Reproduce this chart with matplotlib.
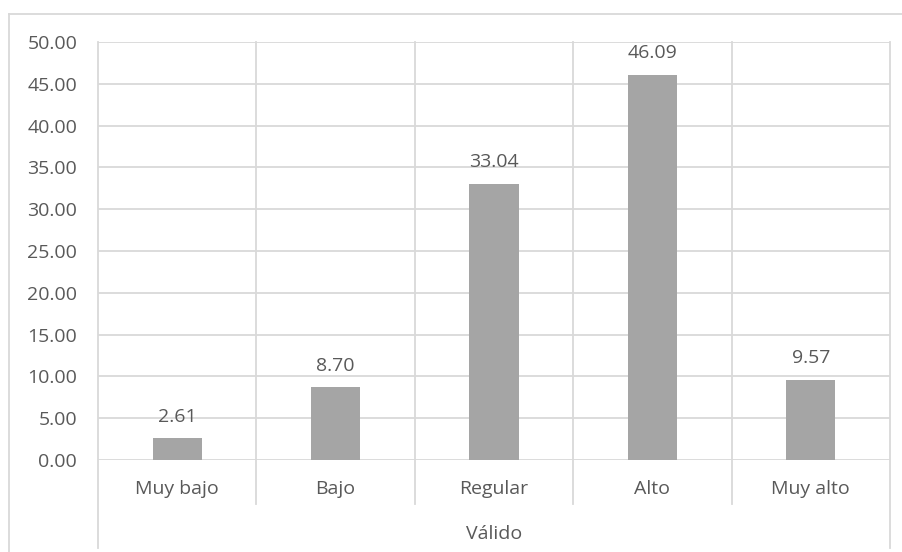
import matplotlib
matplotlib.use("Agg")
import matplotlib.pyplot as plt
from matplotlib.lines import Line2D
import matplotlib.transforms as mtransforms

categories = ["Muy bajo", "Bajo", "Regular", "Alto", "Muy alto"]
values = [2.61, 8.70, 33.04, 46.09, 9.57]
group_label = "Válido"
yticks = [0, 5, 10, 15, 20, 25, 30, 35, 40, 45, 50]

W, H = 903, 552
plt.rcParams["font.family"] = ["Open Sans", "DejaVu Sans"]
text_color = "#595959"
grid_color = "#D9D9D9"
bar_color = "#A5A5A5"
fs = 14

fig = plt.figure(figsize=(W / 100, H / 100), dpi=100)

# plot area in pixel coordinates
left, right, top, bottom = 98, 890, 42, 460
ax = fig.add_axes([left / W, (H - bottom) / H, (right - left) / W, (bottom - top) / H])

x = list(range(len(categories)))
ax.bar(x, values, width=0.31, color=bar_color, zorder=3)
for xi, v in zip(x, values):
    ax.annotate(f"{v:.2f}", (xi, v), xytext=(0, 9), textcoords="offset points",
                ha="center", va="bottom", color=text_color, fontsize=fs)

ax.set_xlim(-0.5, len(categories) - 0.5)
ax.set_ylim(0, 50)
ax.set_yticks(yticks)
ax.set_yticklabels([f"{t:.2f}" for t in yticks])
ax.tick_params(axis="y", length=0, pad=15, labelcolor=text_color, labelsize=fs)
ax.set_xticks([])
for s in ax.spines.values():
    s.set_visible(False)

for t in yticks:
    ax.axhline(t, color=grid_color, lw=1.3, zorder=1)

# category dividers, extending below the axis into the label area
trans = mtransforms.blended_transform_factory(ax.transData, ax.transAxes)
inner_low = (bottom - 504) / (bottom - top)
outer_low = (bottom - 548) / (bottom - top)
n = len(categories)
for i in range(n + 1):
    xd = i - 0.5
    low = outer_low if i in (0, n) else inner_low
    ax.add_line(Line2D([xd, xd], [1, low], transform=trans, color=grid_color,
                       lw=1.3, clip_on=False, zorder=1))

label_y = (bottom - 489) / (bottom - top)
for xi, c in zip(x, categories):
    ax.text(xi, label_y, c, transform=trans, ha="center", va="center",
            color=text_color, fontsize=fs)
ax.text(0.5, (bottom - 534) / (bottom - top), group_label, transform=ax.transAxes,
        ha="center", va="center", color=text_color, fontsize=fs)

# chart frame (top and left edges)
fig.add_artist(Line2D([9 / W, 1], [1 - 13.5 / H, 1 - 13.5 / H], color=grid_color, lw=1.3))
fig.add_artist(Line2D([9 / W, 9 / W], [1 - 13.5 / H, 0], color=grid_color, lw=1.3))

fig.savefig("out.png", dpi=100)
